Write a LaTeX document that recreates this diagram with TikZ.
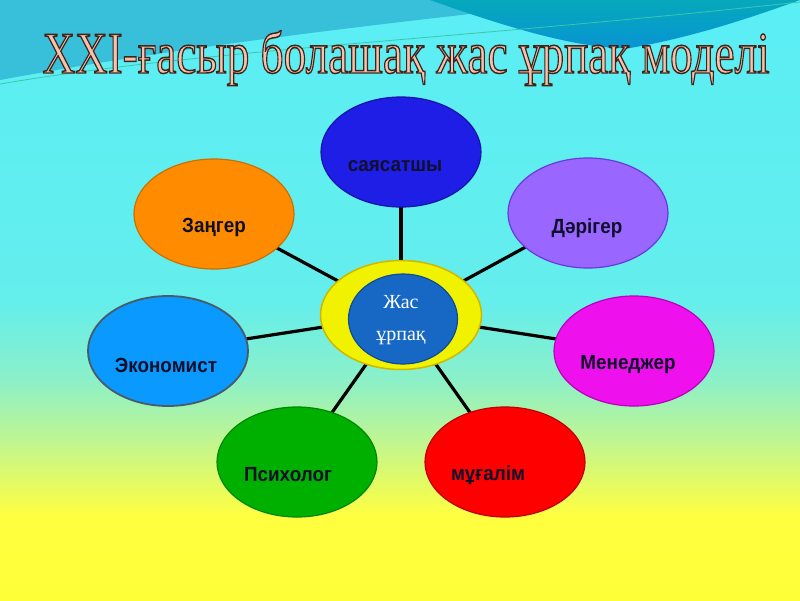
\documentclass[tikz,border=0pt]{standalone}
\usepackage{fontspec}
\setmainfont{Liberation Serif}
\newfontfamily\labfont[FakeStretch=0.92]{Liberation Sans}
\newfontfamily\titlefont[FakeBold=2.5]{Liberation Serif}
\usetikzlibrary{shapes.geometric}
\pgfdeclarelayer{bgl}
\pgfdeclarelayer{lines}
\pgfsetlayers{bgl,lines,main}
\definecolor{bgA}{HTML}{5AEEF5}
\definecolor{bgB}{HTML}{64EEEC}
\definecolor{bgC}{HTML}{8CF0C8}
\definecolor{bgD}{HTML}{C4F68C}
\definecolor{bgE}{HTML}{FFFF40}
\definecolor{bgF}{HTML}{FFFF38}
\definecolor{bandL}{HTML}{38C0DA}
\definecolor{waveA}{HTML}{06A8BC}
\definecolor{waveB}{HTML}{0894D4}
\definecolor{thinline}{HTML}{3CC8A8}
\definecolor{labtext}{HTML}{10102A}
\definecolor{cPol}{HTML}{1E1EE6}\definecolor{cPolD}{HTML}{1414A8}
\definecolor{cZan}{HTML}{FF8C00}\definecolor{cZanD}{HTML}{CC7000}
\definecolor{cDar}{HTML}{9966FF}\definecolor{cDarD}{HTML}{6A3AD8}
\definecolor{cEco}{HTML}{0A99FF}\definecolor{cEcoD}{HTML}{4A5A68}
\definecolor{cMen}{HTML}{EE11EE}\definecolor{cMenD}{HTML}{BB00BB}
\definecolor{cPsy}{HTML}{00B000}\definecolor{cPsyD}{HTML}{008800}
\definecolor{cMug}{HTML}{FF0000}\definecolor{cMugD}{HTML}{C00000}
\definecolor{cYel}{HTML}{F0F200}\definecolor{cYelD}{HTML}{D0B800}
\definecolor{cIn}{HTML}{1668C4}\definecolor{cInD}{HTML}{0E4C94}
\newsavebox\titlebox
\begin{document}
\sbox\titlebox{\titlefont\fontsize{59}{60}\selectfont\special{pdf:bcolor [0.96 0.76 0.68] [0.25 0.14 0.10]}XXI-ғасыр болашақ жас ұрпақ моделі\special{pdf:ecolor}}%
\begin{tikzpicture}[x=1pt,y=-1pt,
  bub/.style={ellipse, minimum width=160pt, minimum height=110pt, inner sep=0pt, line width=1.2pt},
  lab/.style={font=\labfont\bfseries\fontsize{20.5}{22}\selectfont, text=labtext, inner sep=0pt},
  conn/.style={line width=3.2pt, black}]
\useasboundingbox (0,0) rectangle (800,600);
\begin{pgfonlayer}{bgl}
  \shade[top color=bgA, bottom color=bgB] (0,0) rectangle (800,301);
  \shade[top color=bgB, bottom color=bgC] (0,300) rectangle (800,381);
  \shade[top color=bgC, bottom color=bgD] (0,380) rectangle (800,446);
  \shade[top color=bgD, bottom color=bgE] (0,445) rectangle (800,516);
  \shade[top color=bgE, bottom color=bgF] (0,515) rectangle (800,600);
  \fill[bandL] (0,0) -- (0,80) .. controls (150,52) and (350,26) .. (600,0) -- cycle;
  \shade[top color=waveA, bottom color=waveB] (430,0) .. controls (500,25) and (580,50) .. (630,48) .. controls (690,38) and (750,18) .. (800,0) -- cycle;
  \draw[thinline, line width=0.8pt] (0,84) .. controls (200,50) and (450,40) .. (800,2);
\end{pgfonlayer}
\node[anchor=base, inner sep=0pt] (title) at (406,73) {\resizebox{727pt}{\ht\titlebox}{\usebox\titlebox}};
\node[bub, fill=cPol, draw=cPolD] (pol) at (401,152) {};
\node[bub, fill=cZan, draw=cZanD] (zan) at (214,214) {};
\node[bub, fill=cDar, draw=cDarD] (dar) at (588,213) {};
\node[bub, fill=cEco, draw=cEcoD, line width=1.8pt] (eco) at (168,351) {};
\node[bub, fill=cMen, draw=cMenD] (men) at (634,351) {};
\node[bub, fill=cPsy, draw=cPsyD] (psy) at (297,462) {};
\node[bub, fill=cMug, draw=cMugD] (mug) at (505,462) {};
\node[bub, minimum width=161pt, minimum height=109pt, fill=cYel, draw=cYelD, line width=1.5pt] (cen) at (401,315) {};
\node[ellipse, minimum width=109pt, minimum height=90pt, inner sep=0pt, fill=cIn, draw=cInD, line width=1.2pt] (inner) at (403,319) {};
\node[lab] (polt) at (395,166) {саясатшы};
\node[lab] (zant) at (214,227) {Заңгер};
\node[lab] (dart) at (587,228) {Дәрігер};
\node[lab] (ecot) at (166,365) {Экономист};
\node[lab] (ment) at (628,365) {Менеджер};
\node[lab] (psyt) at (288,475) {Психолог};
\node[lab] (mugt) at (488,475) {мұғалім};
\node[font=\fontsize{20}{32}\selectfont, text=white, align=center, inner sep=0pt] (cent) at (401,320) {Жас\\ұрпақ};
\begin{pgfonlayer}{lines}
  \draw[conn] (cen.center) -- (pol.center);
  \draw[conn] (cen.center) -- (zan.center);
  \draw[conn] (cen.center) -- (dar.center);
  \draw[conn] (cen.center) -- (eco.center);
  \draw[conn] (cen.center) -- (men.center);
  \draw[conn] (cen.center) -- (psy.center);
  \draw[conn] (cen.center) -- (mug.center);
\end{pgfonlayer}
\end{tikzpicture}
\end{document}
